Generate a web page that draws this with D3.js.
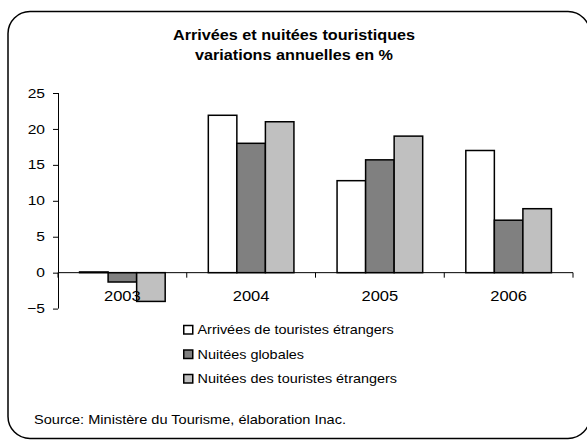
<!DOCTYPE html>
<html><head><meta charset="utf-8">
<script src="https://cdn.jsdelivr.net/npm/d3@7"></script>
<style>body{margin:0;background:#fff}svg{display:block;font-family:"Liberation Sans",Arial,sans-serif}</style>
</head><body><svg id="c" width="587" height="440"></svg>
<script>
const categories = ["2003","2004","2005","2006"];
const seriesNames = ["Arrivées de touristes étrangers","Nuitées globales","Nuitées des touristes étrangers"];
const arrivees = [0.1, 21.9, 12.8, 17.0];
const nuiteesGlobales = [-1.3, 18.0, 15.7, 7.3];
const nuiteesEtrangers = [-4.0, 21.0, 19.0, 8.9];
const yTicks = [-5,0,5,10,15,20,25];
const colors = ["#ffffff","#808080","#c0c0c0"];
const titleLines = ["Arrivées et nuitées touristiques","variations annuelles en %"];
const sourceText = "Source: Ministère du Tourisme, élaboration Inac.";

const series = [arrivees, nuiteesGlobales, nuiteesEtrangers];
const svg = d3.select("#c");

function stext(parent, x, y, str, size, sx, anchor, bold) {
  const t = parent.append("text").attr("transform",`translate(${x},${y}) scale(${sx},1)`)
    .attr("font-size",size).attr("text-anchor",anchor||"start").attr("fill","#000").text(str);
  if (bold) t.attr("font-weight","bold");
  return t;
}

svg.append("rect").attr("x",8).attr("y",11.5).attr("width",582).attr("height",427)
  .attr("rx",22).attr("fill","#fff").attr("stroke","#000").attr("stroke-width",1.5);

titleLines.forEach((l,i)=>stext(svg,294,40+i*19.5,l,15,1.08,"middle",true));

const x0 = d3.scaleBand().domain(categories).range([58,573]).paddingInner(0.335).paddingOuter(0.1675);
const x1 = d3.scaleBand().domain([0,1,2]).range([0,x0.bandwidth()]);
const y = d3.scaleLinear().domain([-5,25]).range([308.6,93]);

const yAxis = svg.append("g").attr("transform","translate(58,0)")
  .call(d3.axisLeft(y).tickValues(yTicks).tickSize(5).tickFormat(""));
yAxis.selectAll("line,path").attr("stroke","#000");
yAxis.select("path").attr("d","M0.5,"+y(-5)+"V"+y(25));
yTicks.forEach(v=>stext(svg,45,y(v)+4.6,d3.format("d")(v),13,1.2,"end"));

const groups = svg.append("g").selectAll("g").data(categories).join("g")
  .attr("transform",d=>`translate(${x0(d)},0)`);
groups.selectAll("rect").data((d,i)=>series.map((s,k)=>({k,v:s[i]}))).join("rect")
  .attr("x",d=>x1(d.k)).attr("width",x1.bandwidth())
  .attr("y",d=>y(Math.max(0,d.v))).attr("height",d=>Math.abs(y(d.v)-y(0)))
  .attr("fill",d=>colors[d.k]).attr("stroke","#000").attr("stroke-width",1.5);

const xb = d3.scaleBand().domain(categories).range([58,573]);
const xg = svg.append("g").attr("transform",`translate(0,${y(0)})`);
xg.append("line").attr("x1",58).attr("x2",573).attr("stroke","#000");
xg.selectAll("line.t").data(d3.range(5)).join("line").attr("class","t")
  .attr("x1",i=>58+i*xb.bandwidth()).attr("x2",i=>58+i*xb.bandwidth()).attr("y1",0).attr("y2",5).attr("stroke","#000");
categories.forEach(c=>stext(xg,xb(c)+xb.bandwidth()/2,28,c,14,1.18,"middle"));

seriesNames.forEach((n,i)=>{
  const g = svg.append("g").attr("transform",`translate(183,${334+i*24.5})`);
  g.append("rect").attr("x",0.75).attr("y",-8.5).attr("width",9).attr("height",8.5)
    .attr("fill",colors[i]).attr("stroke","#000").attr("stroke-width",1.5);
  stext(g,14.5,0,n,13,1.11,"start");
});

stext(svg,34,424,sourceText,13,1.12,"start");
</script></body></html>
